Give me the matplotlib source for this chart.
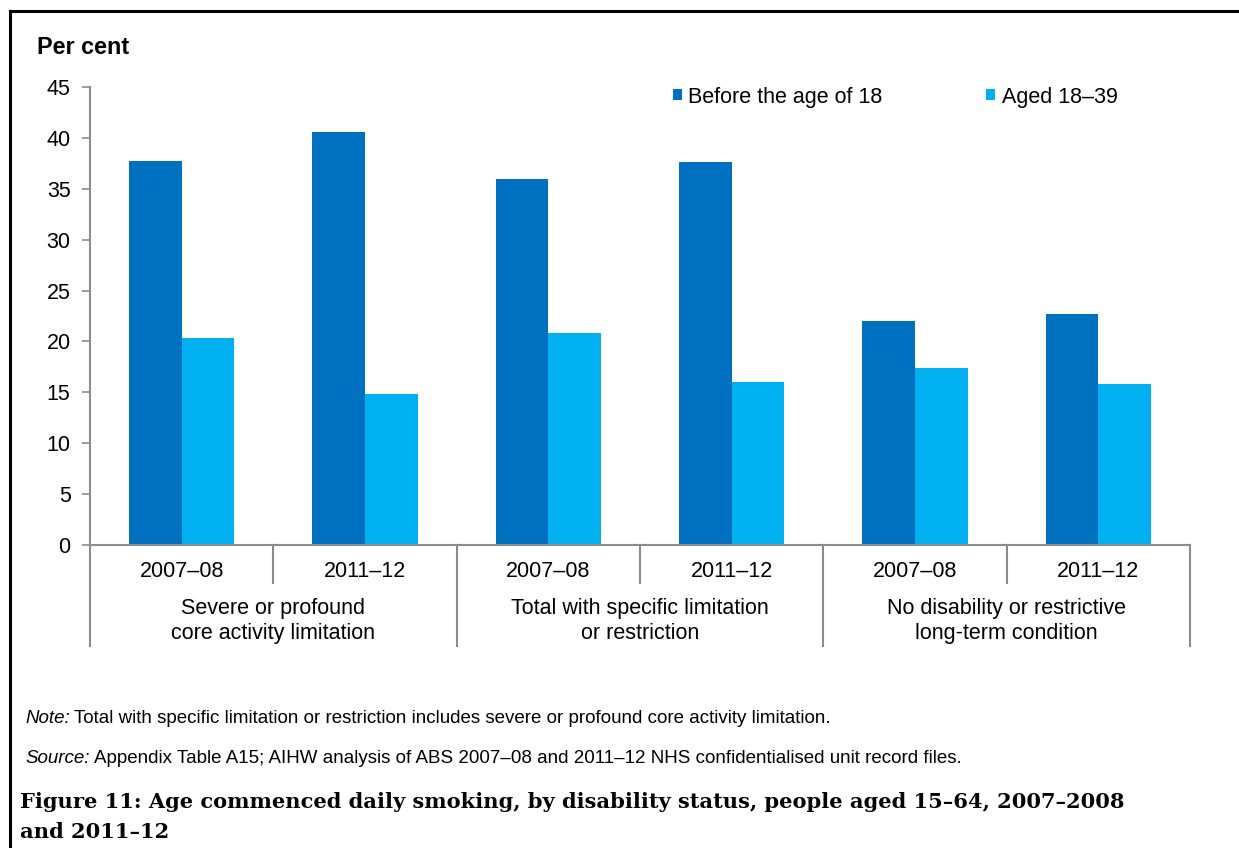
import matplotlib
matplotlib.use("Agg")
import matplotlib.pyplot as plt
from matplotlib.lines import Line2D
from matplotlib.patches import Patch
import numpy as np

plt.rcParams['font.family'] = ['Liberation Sans', 'DejaVu Sans']

years = ["2007–08", "2011–12", "2007–08", "2011–12", "2007–08", "2011–12"]
groups = ["Severe or profound\ncore activity limitation",
          "Total with specific limitation\nor restriction",
          "No disability or restrictive\nlong-term condition"]
series_names = ["Before the age of 18", "Aged 18–39"]
before_18 = [37.7, 40.6, 36.0, 37.6, 22.0, 22.7]
aged_18_39 = [20.3, 14.8, 20.8, 16.0, 17.4, 15.8]
colors = ["#0070C0", "#00B0F0"]

FS = 15.5
W, H = 1239, 848
fig = plt.figure(figsize=(W / 100, H / 100), dpi=100)
ax = fig.add_axes([90 / W, 1 - 545 / H, (1190 - 90) / W, (545 - 87) / H])

x = np.arange(len(years)) + 0.5
bw = 0.287
ax.bar(x - bw / 2, before_18, width=bw, color=colors[0], edgecolor='none', zorder=2)
ax.bar(x + bw / 2, aged_18_39, width=bw, color=colors[1], edgecolor='none', zorder=2)

ax.set_xlim(0, len(years))
ax.set_ylim(0, 45)
ax.set_yticks(np.arange(0, 46, 5))
ax.tick_params(axis='y', direction='out', length=6, width=1.2, color='#8c8c8c',
               labelsize=FS, pad=8, labelcolor='black')
ax.set_xticks([])
for s in ['top', 'right']:
    ax.spines[s].set_visible(False)
for s in ['left', 'bottom']:
    ax.spines[s].set_color('#8c8c8c')
    ax.spines[s].set_linewidth(1.5)

trans = ax.get_xaxis_transform()
# year labels
for xi, yl in zip(x, years):
    ax.text(xi, -0.057, yl, transform=trans, ha='center', va='center', fontsize=FS)
# year dividers
for xd in [1, 3, 5]:
    ax.add_line(Line2D([xd, xd], [0, -0.083], transform=trans, color='#8c8c8c',
                       lw=1.5, clip_on=False))
# group dividers
for xd in [0, 2, 4, 6]:
    ax.add_line(Line2D([xd, xd], [0, -0.220], transform=trans, color='#8c8c8c',
                       lw=1.5, clip_on=False))
for gi, g in enumerate(groups):
    ax.text(2 * gi + 1, -0.167, g, transform=trans, ha='center', va='center',
            fontsize=FS, linespacing=1.25)

fig.text(37 / W, 1 - 47 / H, "Per cent", fontsize=16.8, fontweight='bold',
         ha='left', va='center')

handles = [Patch(facecolor=c, edgecolor='none') for c in colors]
leg = fig.legend(handles, series_names, ncol=2, frameon=False, fontsize=FS,
                 loc='center left', bbox_to_anchor=(673 / W, 1 - 97 / H),
                 handlelength=0.42, handleheight=0.42, handletextpad=0.3,
                 columnspacing=4.8, borderaxespad=0, borderpad=0)

# frame lines
fig.add_artist(Line2D([10 / W, 10 / W], [0, 1 - 11 / H], transform=fig.transFigure,
                      color='black', lw=2.2))
fig.add_artist(Line2D([10 / W, 1], [1 - 11 / H, 1 - 11 / H], transform=fig.transFigure,
                      color='black', lw=2.2))

# notes
NFS = 13.5
t1 = fig.text(25 / W, 1 - 723 / H, "Note:", fontsize=NFS, style='italic',
              ha='left', va='baseline')
fig.add_artist(plt.Annotation(
    "Total with specific limitation or restriction includes severe or profound core activity limitation.",
    xy=(1, 0), xycoords=t1, xytext=(3, 0), textcoords='offset points',
    fontsize=NFS, ha='left', va='bottom'))
t2 = fig.text(25 / W, 1 - 763 / H, "Source:", fontsize=NFS, style='italic',
              ha='left', va='baseline')
fig.add_artist(plt.Annotation(
    "Appendix Table A15; AIHW analysis of ABS 2007–08 and 2011–12 NHS confidentialised unit record files.",
    xy=(1, 0), xycoords=t2, xytext=(3, 0), textcoords='offset points',
    fontsize=NFS, ha='left', va='bottom'))

fig.text(20 / W, 1 - 808 / H,
         "Figure 11: Age commenced daily smoking, by disability status, people aged 15–64, 2007–2008",
         fontsize=15.1, fontweight='bold', family=['DejaVu Serif'], ha='left', va='baseline')
fig.text(20 / W, 1 - 838 / H, "and 2011–12",
         fontsize=15.1, fontweight='bold', family=['DejaVu Serif'], ha='left', va='baseline')

fig.savefig("out.png", dpi=100)
